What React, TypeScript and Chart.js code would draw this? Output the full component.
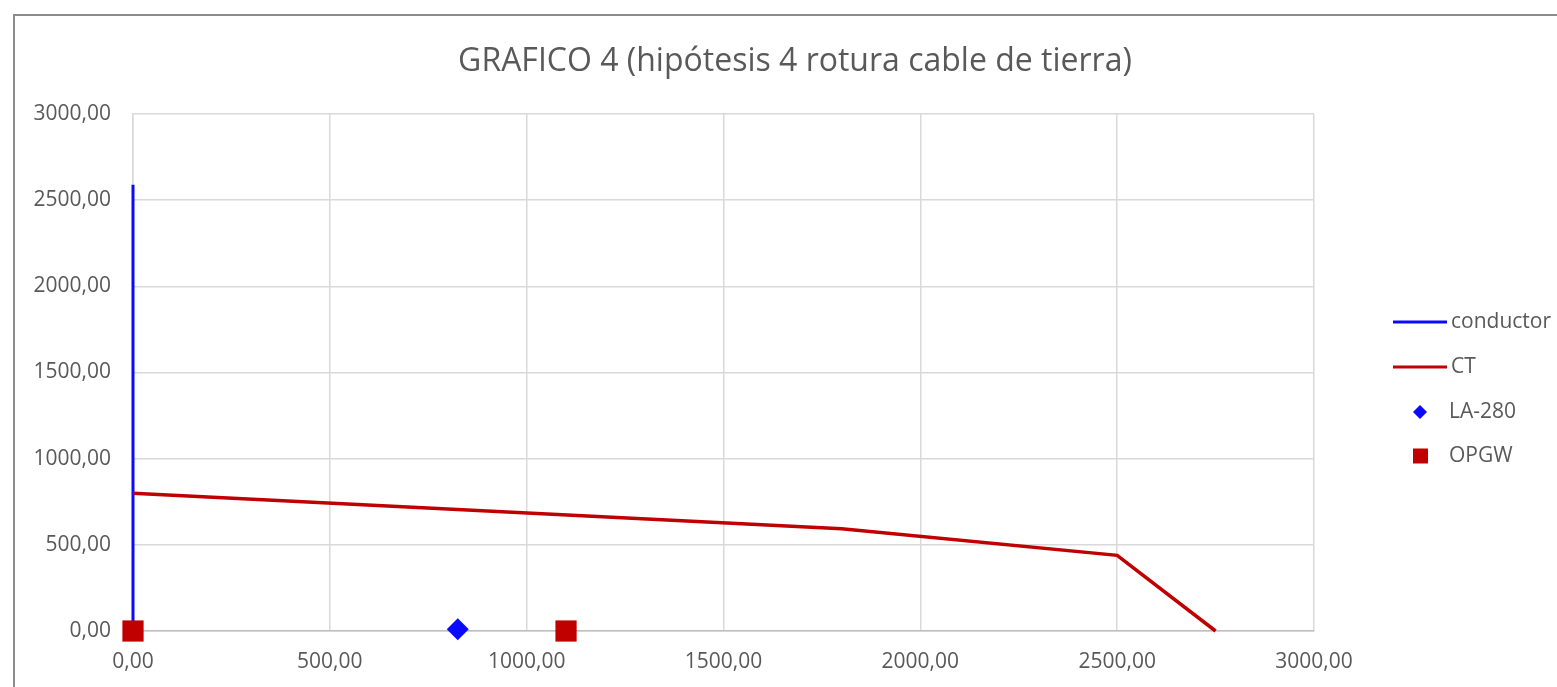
import React, { useEffect, useRef } from "react";
import { Chart, registerables } from "chart.js";

Chart.register(...registerables);

const TITLE = "GRAFICO 4 (hipótesis 4 rotura cable de tierra)";
const AXIS_TICKS = [0, 500, 1000, 1500, 2000, 2500, 3000];

const conductorX = [0, 0];
const conductorY = [0, 2590];

const ctX = [0, 1800, 2500, 2750];
const ctY = [800, 593, 439, 0];

const la280X = [825];
const la280Y = [10];

const opgwX = [0, 1100];
const opgwY = [0, 0];

const SERIES_NAMES = ["conductor", "CT", "LA-280", "OPGW"];

const BLUE = "#0a0aff";
const RED = "#c00000";
const TEXT = "#595959";
const FONT = '"Open Sans", sans-serif';

const toPts = (xs: number[], ys: number[]) => xs.map((x, i) => ({ x, y: ys[i] }));
const fmt = (v: number) => v.toFixed(2).replace(".", ",");

const overlayPlugin = {
  id: "overlay",
  afterDraw(chart: any) {
    const ctx = chart.ctx as CanvasRenderingContext2D;
    const area = chart.chartArea;
    ctx.save();
    // title
    ctx.fillStyle = TEXT;
    ctx.font = `32px ${FONT}`;
    ctx.textAlign = "center";
    ctx.textBaseline = "middle";
    ctx.fillText(TITLE, 795, 62);

    // legend
    const lx = area.right + 79;
    const rows = [322, 367, 412, 456];
    ctx.textAlign = "left";
    ctx.font = `21px ${FONT}`;
    SERIES_NAMES.forEach((name, i) => {
      const y = rows[i];
      if (i < 2) {
        ctx.strokeStyle = i === 0 ? BLUE : RED;
        ctx.lineWidth = 3;
        ctx.beginPath();
        ctx.moveTo(lx, y);
        ctx.lineTo(lx + 54, y);
        ctx.stroke();
        ctx.fillStyle = TEXT;
        ctx.fillText(name, lx + 58, y);
      } else if (i === 2) {
        ctx.fillStyle = BLUE;
        ctx.beginPath();
        ctx.moveTo(lx + 27, y - 7);
        ctx.lineTo(lx + 34, y);
        ctx.lineTo(lx + 27, y + 7);
        ctx.lineTo(lx + 20, y);
        ctx.closePath();
        ctx.fill();
        ctx.fillStyle = TEXT;
        ctx.fillText(name, lx + 56, y);
      } else {
        ctx.fillStyle = RED;
        ctx.fillRect(lx + 20, y - 7.5, 15, 15);
        ctx.fillStyle = TEXT;
        ctx.fillText(name, lx + 56, y);
      }
    });
    ctx.restore();
  },
};

export default function App() {
  const ref = useRef<HTMLCanvasElement>(null);

  useEffect(() => {
    if (!ref.current) return;
    const chart = new Chart(ref.current, {
      type: "scatter",
      data: {
        datasets: [
          {
            label: SERIES_NAMES[0],
            data: toPts(conductorX, conductorY),
            showLine: true,
            borderColor: BLUE,
            backgroundColor: BLUE,
            borderWidth: 3,
            pointRadius: 0,
            clip: false as any,
            order: 3,
          },
          {
            label: SERIES_NAMES[1],
            data: toPts(ctX, ctY),
            showLine: true,
            borderColor: RED,
            backgroundColor: RED,
            borderWidth: 3.5,
            pointRadius: 0,
            clip: false as any,
            order: 2,
          },
          {
            label: SERIES_NAMES[2],
            data: toPts(la280X, la280Y),
            showLine: false,
            pointStyle: "rectRot",
            pointRadius: 11,
            borderWidth: 0,
            backgroundColor: BLUE,
            borderColor: BLUE,
            clip: false as any,
            order: 1,
          },
          {
            label: SERIES_NAMES[3],
            data: toPts(opgwX, opgwY),
            showLine: false,
            pointStyle: "rect",
            pointRadius: 15,
            borderWidth: 0,
            backgroundColor: RED,
            borderColor: RED,
            clip: false as any,
            order: 0,
          },
        ],
      },
      options: {
        responsive: false,
        animation: false,
        layout: { padding: { top: 114, right: 243, left: 0, bottom: 0 } },
        plugins: {
          legend: { display: false },
          title: { display: false },
          tooltip: { enabled: false },
        },
        scales: {
          x: {
            type: "linear",
            min: 0,
            max: 3000,
            afterBuildTicks: (s: any) => {
              s.ticks = AXIS_TICKS.map((v) => ({ value: v }));
            },
            afterFit: (s: any) => {
              s.height = 56;
            },
            ticks: {
              callback: (v: any) => fmt(Number(v)),
              color: TEXT,
              font: { family: FONT, size: 21 },
              padding: 18,
              maxRotation: 0,
            },
            grid: { color: "#d9d9d9", lineWidth: 1.5, drawTicks: false },
            border: { color: "#bfbfbf", width: 1.5 },
          },
          y: {
            type: "linear",
            min: 0,
            max: 3000,
            afterBuildTicks: (s: any) => {
              s.ticks = AXIS_TICKS.map((v) => ({ value: v }));
            },
            afterFit: (s: any) => {
              s.width = 133;
            },
            ticks: {
              callback: (v: any) => fmt(Number(v)),
              color: TEXT,
              font: { family: FONT, size: 21 },
              padding: 22,
            },
            grid: { color: "#d9d9d9", lineWidth: 1.5, drawTicks: false },
            border: { color: "#d9d9d9", width: 1.5 },
          },
        },
      },
      plugins: [overlayPlugin],
    });
    return () => chart.destroy();
  }, []);

  return (
    <div style={{ position: "absolute", left: 0, top: 0, width: 1557, height: 687, overflow: "hidden", background: "#fff" }}>
      <div
        style={{
          position: "absolute",
          left: 13,
          top: 14,
          width: 1700,
          height: 800,
          border: "2px solid #8c8c8c",
          boxSizing: "border-box",
        }}
      />
      <canvas ref={ref} width={1557} height={687} style={{ position: "absolute", left: 0, top: 0, display: "block" }} />
    </div>
  );
}
